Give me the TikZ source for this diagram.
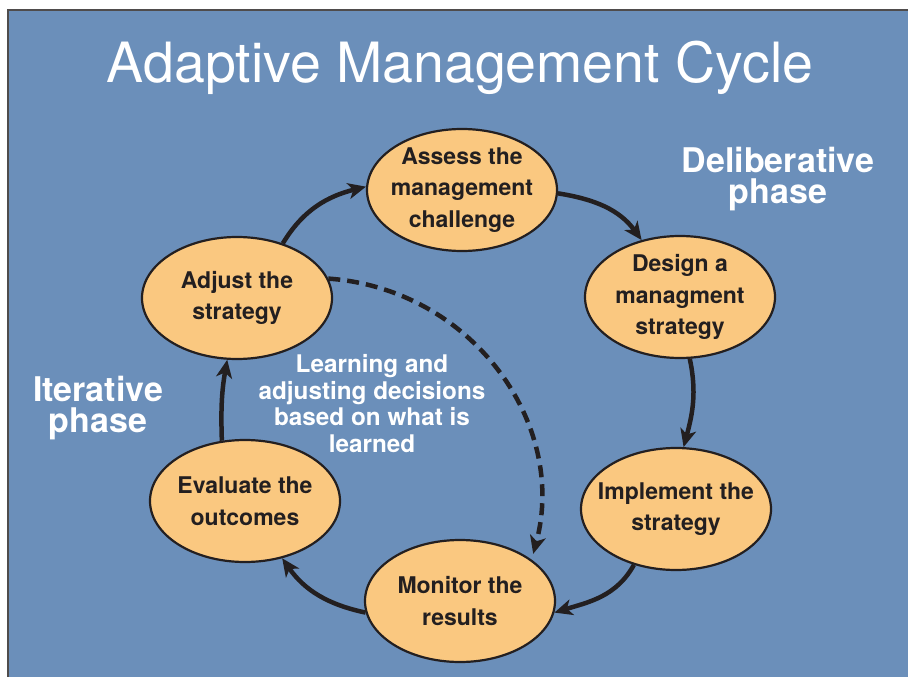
\documentclass[tikz,border=0pt]{standalone}
\usepackage{fontspec}
\setmainfont{TeX Gyre Heros}
\usetikzlibrary{shapes.geometric,arrows.meta}
\definecolor{bgblue}{RGB}{107,143,186}
\definecolor{nodefill}{RGB}{250,200,128}
\definecolor{ink}{RGB}{35,31,32}
\begin{document}
\begin{tikzpicture}[x=1pt,y=1pt,
  stage/.style={ellipse, draw=ink, line width=2.2pt, fill=nodefill,
    minimum width=190pt, minimum height=122pt, inner xsep=-12pt, inner ysep=-2pt, align=center,
    text=ink, font=\bfseries\fontsize{23}{31.5}\selectfont},
  flow/.style={draw=ink, line width=4.5pt, -{Stealth[length=18pt,width=16pt,inset=5pt]}},
  dashflow/.style={flow, dash pattern=on 12pt off 7pt},
  phaselabel/.style={text=white, align=center, font=\bfseries\fontsize{34}{31}\selectfont},
  notelabel/.style={text=white, align=center, font=\bfseries\fontsize{24.3}{26.5}\selectfont}]
\fill[white] (0,0) rectangle (908,-677);
\useasboundingbox (0,0) rectangle (908,-677);
\fill[bgblue] (8,-10) rectangle (908,-677);
\draw[ink!80, line width=1.5pt] (8,-677) -- (8,-10) -- (908,-10);

\node[text=white, font=\fontsize{55.5}{60}\selectfont, anchor=base] (title) at (460,-82) {Adaptive Management Cycle};

\node[stage] (assess) at (462,-190) {Assess the\\management\\challenge};
\node[stage] (design) at (680,-297) {Design a\\managment\\strategy};
\node[stage] (implement) at (676,-509) {Implement the\\strategy};
\node[stage] (monitor) at (460,-601) {Monitor the\\results};
\node[stage] (evaluate) at (245,-501) {Evaluate the\\outcomes};
\node[stage] (adjust) at (237,-298) {Adjust the\\strategy};

\node[phaselabel] (delib) at (778,-179) {Deliberative\\phase};
\node[phaselabel] (iter) at (98,-408) {Iterative\\phase};
\node[notelabel] (note) at (372,-403.5) {Learning and\\adjusting decisions\\based on what is\\learned};

\draw[flow] (adjust.50) to[out=59,in=194] (assess.178);
\draw[flow] (assess.358) to[out=-9,in=126] (design.124);
\draw[flow] (design.-81) to[out=-78,in=75] (implement.83);
\draw[flow] (implement.-127) to[out=-119,in=17] (monitor.-7);
\draw[flow] (monitor.187) to[out=168,in=-55] (evaluate.-57);
\draw[flow] (evaluate.111) to[out=92,in=-100] (adjust.-99);
\draw[dashflow, shorten >=6pt] (adjust.12) to[out=-4,in=75,looseness=1.05] (monitor.30);
\end{tikzpicture}
\end{document}
